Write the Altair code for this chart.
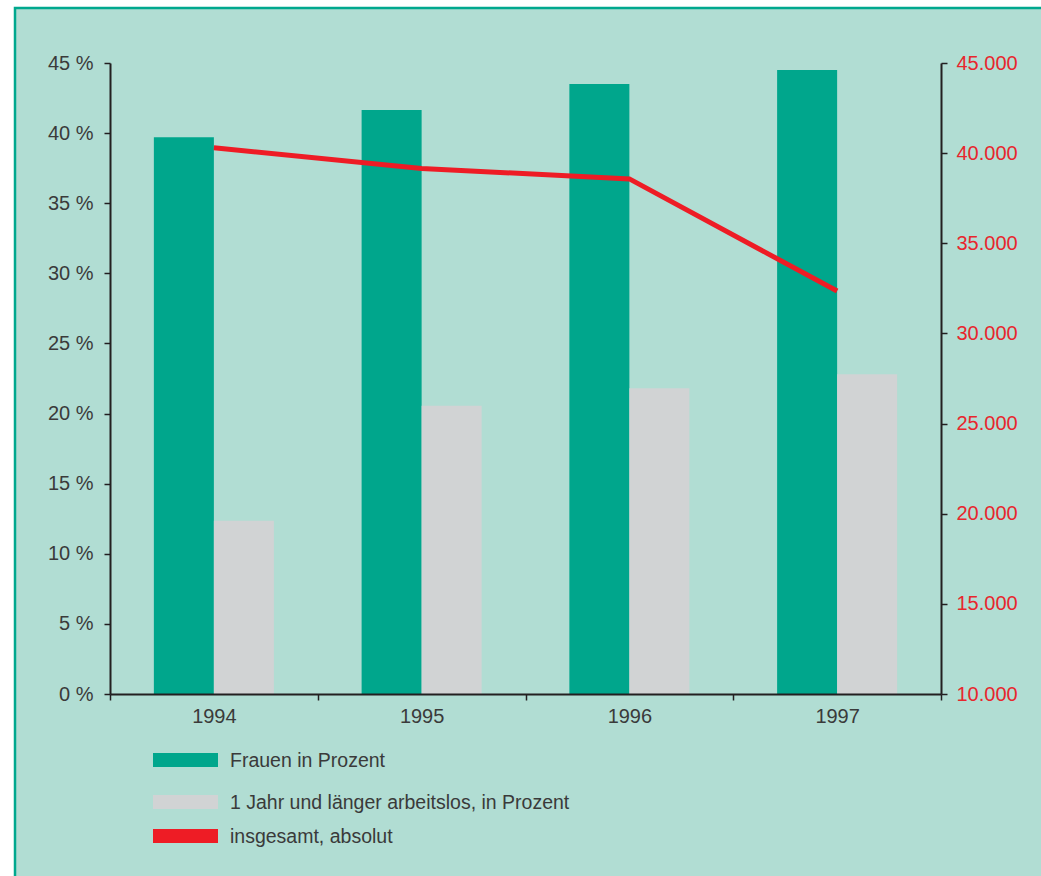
import altair as alt
import pandas as pd

# ---- data ----
years = ["1994", "1995", "1996", "1997"]
frauen_prozent = [39.7, 41.65, 43.5, 44.5]
langzeit_prozent = [12.35, 20.55, 21.8, 22.8]
insgesamt_absolut = [40300, 39150, 38570, 32350]

series_names = [
    "Frauen in Prozent",
    "1 Jahr und länger arbeitslos, in Prozent",
    "insgesamt, absolut",
]
series_colors = ["#00a68c", "#d1d3d4", "#ee1c25"]

left_ticks = [0, 5, 10, 15, 20, 25, 30, 35, 40, 45]
right_ticks = [10000, 15000, 20000, 25000, 30000, 35000, 40000, 45000]

# ---- tables ----
bars_df = pd.DataFrame(
    {
        "year": years * 2,
        "series": [series_names[0]] * 4 + [series_names[1]] * 4,
        "value": frauen_prozent + langzeit_prozent,
    }
)
line_df = pd.DataFrame(
    {"year": years, "series": [series_names[2]] * 4, "value": insgesamt_absolut}
)

MINT = "#b1ddd3"
BORDER = "#00a88e"
AXIS = "#231f20"
TEXT = "#3a3a3a"
RED = "#e8262d"
FONT = "Liberation Sans"

color = alt.Color(
    "series:N",
    scale=alt.Scale(domain=series_names, range=series_colors),
    legend=None,
)

x_enc = alt.X(
    "year:N",
    sort=years,
    scale=alt.Scale(paddingInner=0, paddingOuter=0),
    axis=alt.Axis(
        title=None,
        labelAngle=0,
        tickBand="extent",
        domainColor=AXIS,
        domainWidth=2,
        tickColor=AXIS,
        tickWidth=1.5,
        tickSize=6,
        labelFontSize=20,
        labelColor=TEXT,
        labelPadding=6,
        labelFont=FONT,
        zindex=2,
    ),
)

# background panel with green border
bg = (
    alt.Chart(pd.DataFrame({"a": [0]}))
    .mark_rect(fill=MINT, stroke=BORDER, strokeWidth=2.5)
    .encode(
        x=alt.value(-95), x2=alt.value(960), y=alt.value(-55), y2=alt.value(840)
    )
)

bars = (
    alt.Chart(bars_df)
    .mark_bar()
    .encode(
        x=x_enc,
        xOffset=alt.XOffset(
            "series:N",
            sort=series_names[:2],
            scale=alt.Scale(
                domain=series_names[:2], paddingInner=0, paddingOuter=0.731
            ),
        ),
        y=alt.Y(
            "value:Q",
            scale=alt.Scale(domain=[0, 45], nice=False, zero=True),
            axis=alt.Axis(
                orient="left",
                title=None,
                grid=False,
                values=left_ticks,
                labelExpr="datum.value + ' %'",
                domainColor=AXIS,
                domainWidth=2,
                tickColor=AXIS,
                tickWidth=1.5,
                tickSize=6,
                labelFontSize=20,
                labelColor=TEXT,
                labelPadding=11,
                labelFont=FONT,
                zindex=2,
            ),
        ),
        color=color,
    )
)

line = (
    alt.Chart(line_df)
    .mark_line(strokeWidth=5, strokeJoin="miter")
    .encode(
        x=alt.X("year:N", sort=years),
        y=alt.Y(
            "value:Q",
            scale=alt.Scale(domain=[10000, 45000], nice=False, zero=False),
            axis=alt.Axis(
                orient="right",
                title=None,
                grid=False,
                values=right_ticks,
                labelExpr="replace(format(datum.value, ',d'), ',', '.')",
                domainColor=AXIS,
                domainWidth=2,
                tickColor=AXIS,
                tickWidth=1.5,
                tickSize=6,
                labelFontSize=20,
                labelColor=RED,
                labelPadding=9,
                labelFont=FONT,
                zindex=2,
            ),
        ),
        color=color,
    )
)

# custom legend (rows below the plot)
legend_rows = [(690, 704), (732, 746), (766, 780)]
legend_layers = []
for name, (y0, y1) in zip(series_names, legend_rows):
    d = pd.DataFrame({"series": [name]})
    legend_layers.append(
        alt.Chart(d)
        .mark_rect()
        .encode(
            x=alt.value(43), x2=alt.value(108), y=alt.value(y0), y2=alt.value(y1),
            color=color,
        )
    )
    legend_layers.append(
        alt.Chart(d)
        .mark_text(align="left", baseline="middle", fontSize=19.5, color=TEXT, font=FONT)
        .encode(x=alt.value(120), y=alt.value((y0 + y1) / 2 + 1), text="series:N")
    )

chart = (
    alt.layer(bg, bars, line, *legend_layers)
    .resolve_scale(y="independent")
    .properties(
        width=831,
        height=631,
        autosize=alt.AutoSizeParams(type="none"),
        padding={"left": 110, "top": 63, "right": 100, "bottom": 182},
        background="white",
    )
    .configure_view(stroke=None, fill=None)
)

chart.save("out.html", embed_options={"renderer": "svg", "actions": False})
